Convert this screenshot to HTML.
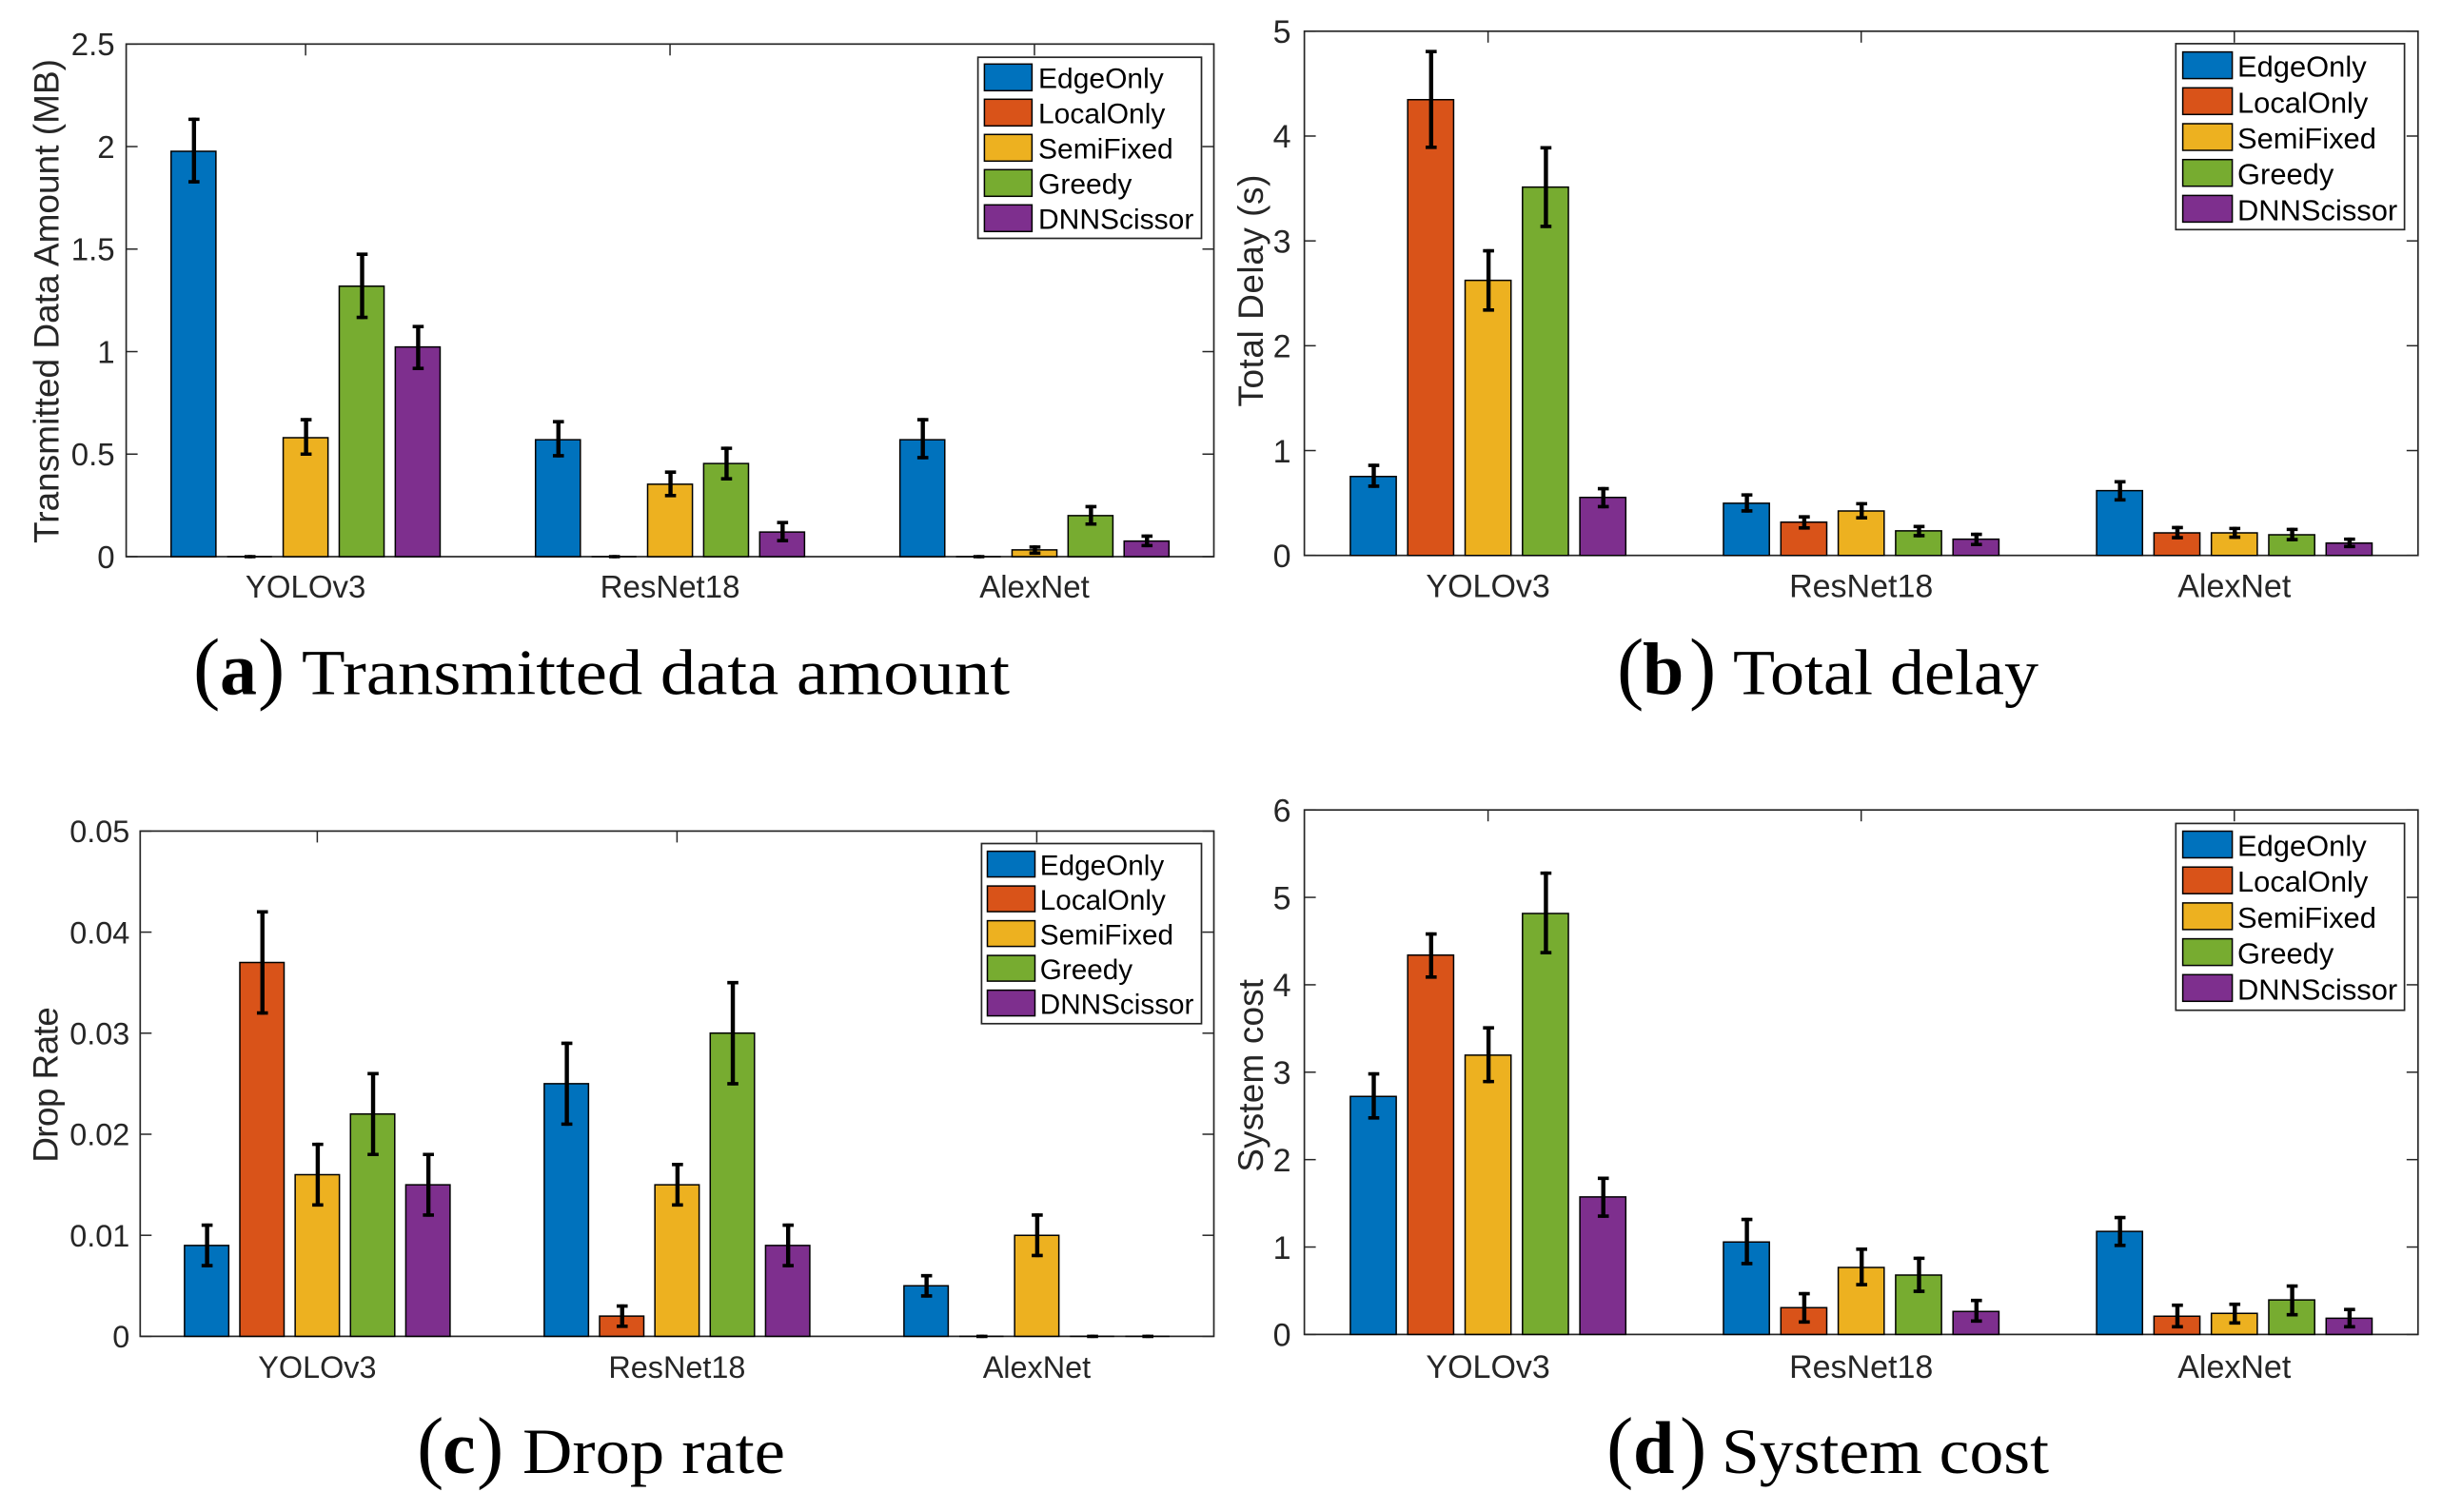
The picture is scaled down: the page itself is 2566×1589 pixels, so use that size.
<!DOCTYPE html>
<html lang="en">
<head>
<meta charset="utf-8">
<title>Transmitted data, total delay, drop rate and system cost comparison</title>
<style>
html,body{margin:0;padding:0;background:#fff;}
svg{display:block;}
.cap{font-family:"Liberation Serif",serif;fill:#000;}
</style>
</head>
<body>
<svg id="figure" xmlns="http://www.w3.org/2000/svg" width="2566" height="1589" viewBox="0 0 2566 1589">
  <rect width="2566" height="1589" fill="#ffffff"/>
  <g id="charts"></g>
  <g class="cap">
    <text x="203" y="729.6" font-size="85">(</text>
    <text x="231" y="729.6" font-size="78" font-weight="bold">a</text>
    <text x="271" y="729.6" font-size="85">)</text>
    <text x="317" y="729.6" font-size="68" textLength="744" lengthAdjust="spacingAndGlyphs">Transmitted data amount</text>
  </g>
  <g class="cap">
    <text x="1699" y="729.6" font-size="85">(</text>
    <text x="1726" y="729.6" font-size="78" font-weight="bold">b</text>
    <text x="1775" y="729.6" font-size="85">)</text>
    <text x="1821" y="729.6" font-size="68" textLength="321" lengthAdjust="spacingAndGlyphs">Total delay</text>
  </g>
  <g class="cap">
    <text x="438" y="1548" font-size="85">(</text>
    <text x="465" y="1548" font-size="78" font-weight="bold">c</text>
    <text x="501" y="1548" font-size="85">)</text>
    <text x="549" y="1548" font-size="68" textLength="276" lengthAdjust="spacingAndGlyphs">Drop rate</text>
  </g>
  <g class="cap">
    <text x="1688" y="1548" font-size="85">(</text>
    <text x="1716" y="1548" font-size="78" font-weight="bold">d</text>
    <text x="1765" y="1548" font-size="85">)</text>
    <text x="1809" y="1548" font-size="68" textLength="344" lengthAdjust="spacingAndGlyphs">System cost</text>
  </g>
</svg>
<script>
const categories = ["YOLOv3", "ResNet18", "AlexNet"];
const seriesNames = ["EdgeOnly", "LocalOnly", "SemiFixed", "Greedy", "DNNScissor"];

const dataValuesA = [[1.977, 0, 0.58, 1.319, 1.023], [0.57, 0, 0.353, 0.4545, 0.12], [0.57, 0, 0.033, 0.2, 0.076]];
const dataErrPosA = [[0.156, 0, 0.088, 0.156, 0.099], [0.088, 0, 0.059, 0.074, 0.046], [0.098, 0, 0.014, 0.044, 0.024]];
const dataErrNegA = [[0.149, 0, 0.08, 0.152, 0.105], [0.078, 0, 0.055, 0.075, 0.042], [0.087, 0, 0.016, 0.041, 0.022]];
const dataTicksA = [0, 0.5, 1, 1.5, 2, 2.5];
const dataTickLabelsA = ["0", "0.5", "1", "1.5", "2", "2.5"];

const delayValuesB = [[0.753, 4.347, 2.624, 3.513, 0.553], [0.498, 0.317, 0.424, 0.234, 0.155], [0.618, 0.215, 0.215, 0.197, 0.118]];
const delayErrPosB = [[0.106, 0.459, 0.282, 0.375, 0.084], [0.079, 0.051, 0.069, 0.042, 0.046], [0.084, 0.051, 0.042, 0.051, 0.037]];
const delayErrNegB = [[0.093, 0.454, 0.283, 0.375, 0.088], [0.074, 0.055, 0.065, 0.046, 0.051], [0.088, 0.046, 0.041, 0.046, 0.033]];
const delayTicksB = [0, 1, 2, 3, 4, 5];
const delayTickLabelsB = ["0", "1", "2", "3", "4", "5"];

const dropValuesC = [[0.009, 0.037, 0.016, 0.022, 0.015], [0.025, 0.002, 0.015, 0.03, 0.009], [0.005, 0, 0.01, 0, 0]];
const dropErrPosC = [[0.002, 0.005, 0.003, 0.004, 0.003], [0.004, 0.001, 0.002, 0.005, 0.002], [0.001, 0, 0.002, 0, 0]];
const dropErrNegC = [[0.002, 0.005, 0.003, 0.004, 0.003], [0.004, 0.001, 0.002, 0.005, 0.002], [0.001, 0, 0.002, 0, 0]];
const dropTicksC = [0, 0.01, 0.02, 0.03, 0.04, 0.05];
const dropTickLabelsC = ["0", "0.01", "0.02", "0.03", "0.04", "0.05"];

const costValuesD = [[2.723, 4.34, 3.195, 4.816, 1.573], [1.058, 0.307, 0.767, 0.679, 0.263], [1.178, 0.208, 0.241, 0.395, 0.186]];
const costErrPosD = [[0.258, 0.241, 0.312, 0.461, 0.213], [0.257, 0.159, 0.208, 0.192, 0.126], [0.159, 0.126, 0.104, 0.158, 0.099]];
const costErrNegD = [[0.246, 0.252, 0.302, 0.449, 0.22], [0.247, 0.165, 0.197, 0.186, 0.11], [0.159, 0.12, 0.109, 0.17, 0.098]];
const costTicksD = [0, 1, 2, 3, 4, 5, 6];
const costTickLabelsD = ["0", "1", "2", "3", "4", "5", "6"];

const colors = ["#0072BD", "#D95319", "#EDB120", "#77AC30", "#7E2F8E"];
const NS = "http://www.w3.org/2000/svg";
const AX = "#262626";
const SANS = '"Liberation Sans", sans-serif';
const XMIN = 0.5077, XMAX = 3.4923, STEP = 0.1538, BARW = 0.123;

const panels = [
  {key: "transmitted-data", left: 132.6, right: 1275.5, top: 46.3, base: 585, ymax: 2.5,
   values: dataValuesA, pos: dataErrPosA, neg: dataErrNegA, ticks: dataTicksA, labels: dataTickLabelsA,
   tickFs: 33, tickGap: 12, xlabFs: 33, xlabOff: 43,
   ylabel: "Transmitted Data Amount (MB)", ylabX: 61.6, ylabY: 316.5, ylabLen: 509,
   leg: {x0: 1027.6, x1: 1262.5, y0: 60.2, y1: 250.5, sx: 1034.4, sw: 50, sy: 67.3, sh: 28, pitch: 37, tx: 1091, base: 25.2, fs: 30}},
  {key: "total-delay", left: 1370.6, right: 2540.8, top: 32.8, base: 583.7, ymax: 5,
   values: delayValuesB, pos: delayErrPosB, neg: delayErrNegB, ticks: delayTicksB, labels: delayTickLabelsB,
   tickFs: 34, tickGap: 14, xlabFs: 34, xlabOff: 44,
   ylabel: "Total Delay (s)", ylabX: 1326.9, ylabY: 305.6, ylabLen: 244,
   leg: {x0: 2286.3, x1: 2526.6, y0: 45.9, y1: 241.3, sx: 2293.6, sw: 52, sy: 54.6, sh: 28, pitch: 37.7, tx: 2351, base: 26, fs: 30.9}},
  {key: "drop-rate", left: 147.3, right: 1275.5, top: 873.4, base: 1404.4, ymax: 0.05,
   values: dropValuesC, pos: dropErrPosC, neg: dropErrNegC, ticks: dropTicksC, labels: dropTickLabelsC,
   tickFs: 32.4, tickGap: 11, xlabFs: 32.4, xlabOff: 43.6,
   ylabel: "Drop Rate", ylabX: 60.3, ylabY: 1140, ylabLen: 163.6,
   leg: {x0: 1031.4, x1: 1262.5, y0: 886.5, y1: 1075.8, sx: 1037.5, sw: 50, sy: 894.6, sh: 27, pitch: 36.5, tx: 1092.8, base: 25, fs: 29.7}},
  {key: "system-cost", left: 1370.6, right: 2540.8, top: 851.2, base: 1402.4, ymax: 6,
   values: costValuesD, pos: costErrPosD, neg: costErrNegD, ticks: costTicksD, labels: costTickLabelsD,
   tickFs: 34, tickGap: 14, xlabFs: 34, xlabOff: 45.6,
   ylabel: "System cost", ylabX: 1326.9, ylabY: 1130.3, ylabLen: 202.8,
   leg: {x0: 2286.3, x1: 2526.6, y0: 865.4, y1: 1061.7, sx: 2293.6, sw: 52, sy: 873.5, sh: 28, pitch: 37.7, tx: 2351, base: 26, fs: 30.9}}
];

function mk(tag, attrs, parent) {
  const el = document.createElementNS(NS, tag);
  for (const k in attrs) el.setAttribute(k, attrs[k]);
  parent.appendChild(el);
  return el;
}

function drawPanel(p, root) {
  const xScale = v => p.left + (v - XMIN) / (XMAX - XMIN) * (p.right - p.left);
  const yScale = v => p.base - v / p.ymax * (p.base - p.top);

  const g = mk("g", {}, root);
  
  

  const frame = mk("rect", {x: p.left, y: p.top, width: p.right - p.left, height: p.base - p.top, fill: "#fff", stroke: AX, "stroke-width": 1.7}, g);
  
  

  p.ticks.forEach((t, i) => {
    const y = yScale(t);
    const left = mk("line", {x1: p.left, x2: p.left + 12, y1: y, y2: y, stroke: AX, "stroke-width": 1.5}, g);
    
    
    const right = mk("line", {x1: p.right, x2: p.right - 12, y1: y, y2: y, stroke: AX, "stroke-width": 1.5}, g);
    
    
    const lab = mk("text", {x: p.left - p.tickGap, y: y + p.tickFs * 0.36, "text-anchor": "end", "font-family": SANS, "font-size": p.tickFs, fill: AX}, g);
    lab.textContent = p.labels[i];
    
    
  });

  categories.forEach((c, ci) => {
    const x = xScale(ci + 1);
    const top = mk("line", {x1: x, x2: x, y1: p.top, y2: p.top + 12, stroke: AX, "stroke-width": 1.5}, g);
    
    
    const bottom = mk("line", {x1: x, x2: x, y1: p.base, y2: p.base - 12, stroke: AX, "stroke-width": 1.5}, g);
    
    
    const lab = mk("text", {x: x, y: p.base + p.xlabOff, "text-anchor": "middle", "font-family": SANS, "font-size": p.xlabFs, fill: AX}, g);
    lab.textContent = c;
    
    
  });

  const yl = mk("text", {transform: "translate(" + p.ylabX + " " + p.ylabY + ") rotate(-90)", "text-anchor": "middle", "font-family": SANS, "font-size": 37, fill: AX, textLength: p.ylabLen}, g);
  yl.textContent = p.ylabel;
  
  

  categories.forEach((c, ci) => {
    seriesNames.forEach((s, si) => {
      const cx = ci + 1 + (si - 2) * STEP;
      const x0 = xScale(cx - BARW / 2), x1 = xScale(cx + BARW / 2);
      const v = p.values[ci][si];
      const yt = yScale(v), yb = yScale(0);
      const bar = mk("path", {d: "M" + x0 + " " + yb + "L" + x0 + " " + yt + "L" + x1 + " " + yt + "L" + x1 + " " + yb + "Z", fill: colors[si], stroke: "#000", "stroke-width": 1.5}, g);
      
      
    });
  });

  categories.forEach((c, ci) => {
    seriesNames.forEach((s, si) => {
      const cx = xScale(ci + 1 + (si - 2) * STEP) + 0.5;
      const v = p.values[ci][si];
      const yHi = yScale(v + p.pos[ci][si]);
      const yLo = yScale(v - p.neg[ci][si]);
      const stem = mk("path", {d: "M" + cx + " " + (yHi - 1.7) + "L" + cx + " " + (yLo + 1.7), fill: "none", stroke: "#000", "stroke-width": 4.4}, g);
      
      
      const caps = mk("path", {d: "M" + (cx - 5.8) + " " + yHi + "L" + (cx + 5.8) + " " + yHi + "M" + (cx - 5.8) + " " + yLo + "L" + (cx + 5.8) + " " + yLo, fill: "none", stroke: "#000", "stroke-width": 3.6}, g);
      
      
    });
  });

  const L = p.leg;
  const legend = mk("g", {}, g);
  
  
  const box = mk("rect", {x: L.x0, y: L.y0, width: L.x1 - L.x0, height: L.y1 - L.y0, fill: "#fff", stroke: AX, "stroke-width": 1.7}, legend);
  
  
  seriesNames.forEach((s, si) => {
    const y = L.sy + si * L.pitch;
    const sw = mk("rect", {x: L.sx, y: y, width: L.sw, height: L.sh, fill: colors[si], stroke: "#000", "stroke-width": 1.5}, legend);
    
    
    const t = mk("text", {x: L.tx, y: y + L.base, "font-family": SANS, "font-size": L.fs, fill: "#000"}, legend);
    t.textContent = s;
    
    
  });
}

const chartsRoot = document.getElementById("charts");
panels.forEach(p => drawPanel(p, chartsRoot));
</script>
</body>
</html>
